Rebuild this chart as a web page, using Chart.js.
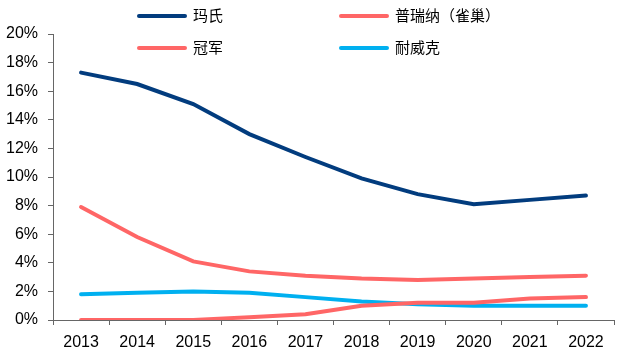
<!DOCTYPE html>
<html><head><meta charset="utf-8">
<script src="https://cdn.jsdelivr.net/npm/chart.js@4/dist/chart.umd.min.js"></script>
<style>
html,body{margin:0;padding:0;background:#fff;}
#wrap{position:relative;width:621px;height:356px;}
canvas{position:absolute;left:0;top:0;}
.lg{position:absolute;font-family:"Noto Sans CJK SC",sans-serif;font-size:15px;color:#000;line-height:18px;white-space:nowrap;}
.lg i{display:inline-block;width:50px;height:4px;border-radius:2px;vertical-align:middle;margin-right:6px;position:relative;top:-1px;}
</style></head>
<body><div id="wrap"><canvas id="c" width="621" height="356"></canvas></div>
<script>
const years = ["2013","2014","2015","2016","2017","2018","2019","2020","2021","2022"];
const seriesNames = ["玛氏","普瑞纳（雀巢）","冠军","耐威克"];
const mars    = [17.3,16.5,15.1,13.0,11.4,9.9,8.8,8.1,8.4,8.7];
const purina  = [7.9,5.8,4.1,3.4,3.1,2.9,2.8,2.9,3.0,3.1];
const champion= [0,0,0,0.2,0.4,1.0,1.2,1.2,1.5,1.6];
const navarch = [1.8,1.9,2.0,1.9,1.6,1.3,1.1,1.0,1.0,1.0];
const yTicks  = [0,2,4,6,8,10,12,14,16,18,20];
const colors = ["#023C7E","#FF6666","#FF6666","#00B0F0"];
const values = [mars,purina,champion,navarch];

const legendPos = [[137,6],[339,6],[137,38],[339,38]];
const wrap = document.getElementById('wrap');
seriesNames.forEach((n,i)=>{
  const d=document.createElement('div');d.className='lg';
  d.style.left=legendPos[i][0]+'px';d.style.top=legendPos[i][1]+'px';
  d.innerHTML='<i style="background:'+colors[i]+'"></i>'+n;
  wrap.appendChild(d);
});

new Chart(document.getElementById('c'),{
  type:'line',
  data:{labels:years,datasets:values.map((v,i)=>({label:seriesNames[i],data:v,borderColor:colors[i],backgroundColor:colors[i],borderWidth:4,pointRadius:0,tension:0,borderCapStyle:'round'}))},
  options:{
    responsive:false,animation:false,devicePixelRatio:1,
    layout:{padding:{left:0,right:7,top:34,bottom:0}},
    plugins:{legend:{display:false},tooltip:{enabled:false}},
    scales:{
      x:{offset:true,
        grid:{display:true,drawOnChartArea:false,offset:true,tickLength:5,color:'#666',tickColor:'#666'},
        border:{display:true,color:'#666',width:1},
        ticks:{color:'#000',font:{family:'"Liberation Sans", Arial',size:16},padding:8,maxRotation:0},
        afterFit:s=>{s.height=36;}
      },
      y:{min:0,max:20,
        afterBuildTicks:s=>{s.ticks=yTicks.map(v=>({value:v}));},
        grid:{display:true,drawOnChartArea:false,tickLength:5,color:'#666',tickColor:'#666'},
        border:{display:true,color:'#666',width:1},
        ticks:{color:'#000',font:{family:'"Liberation Sans", Arial',size:16},padding:10,callback:v=>v+'%'},
        afterFit:s=>{s.width=53;}
      }
    }
  }
});
</script></body></html>
